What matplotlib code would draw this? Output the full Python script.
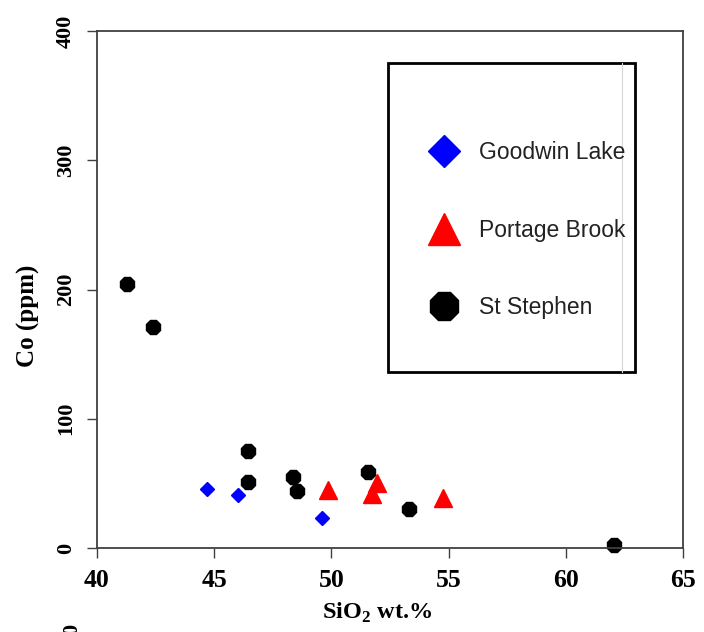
import matplotlib.pyplot as plt
from matplotlib.patches import Rectangle
from matplotlib.lines import Line2D

# SiO2 (wt.%) and Co (ppm)
goodwin_sio2 = [44.7, 46.0, 49.6]
goodwin_co = [46, 41, 23]

portage_sio2 = [49.85, 51.95, 51.75, 54.75]
portage_co = [45, 50, 42, 39]

stephen_sio2 = [41.3, 42.4, 46.45, 46.45, 48.35, 48.55, 51.55, 53.3, 62.05]
stephen_co = [204, 171, 75, 51, 55, 44, 59, 30, 2]

x_ticks = [40, 45, 50, 55, 60, 65]
y_ticks = [0, 100, 200, 300, 400]

serif = 'Liberation Serif'
sans = 'Liberation Sans'

plt.rcParams['mathtext.fontset'] = 'custom'
plt.rcParams['mathtext.rm'] = 'Liberation Serif:bold'
plt.rcParams['mathtext.bf'] = 'Liberation Serif:bold'

fig = plt.figure(figsize=(7.04, 6.32), dpi=100)
ax = fig.add_axes([97 / 704, 84 / 632, 586 / 704, 517 / 632])

ax.plot(goodwin_sio2, goodwin_co, linestyle='none', marker='D', ms=7,
        color='#0000ff', mec='#0000ff', label='Goodwin Lake', clip_on=False)
ax.plot(portage_sio2, portage_co, linestyle='none', marker='^', ms=13.5,
        color='#ff0000', mec='#ff0000', label='Portage Brook', clip_on=False)
ax.plot(stephen_sio2, stephen_co, linestyle='none', marker='8', ms=11.5,
        color='black', mec='black', label='St Stephen', clip_on=False)

ax.set_xlim(40, 65)
ax.set_ylim(0, 400)
ax.set_xticks(x_ticks)
ax.set_yticks(y_ticks)

for sp in ax.spines.values():
    sp.set_color('#404040')
    sp.set_linewidth(1.3)

ax.tick_params(direction='out', length=7, width=1, color='#404040')
ax.tick_params(axis='x', pad=8)
ax.tick_params(axis='y', pad=8)
for lab in ax.get_xticklabels():
    lab.set_fontfamily(serif)
    lab.set_fontweight('bold')
    lab.set_fontsize(18.5)
for lab in ax.get_yticklabels():
    lab.set_fontfamily(serif)
    lab.set_fontweight('bold')
    lab.set_fontsize(16)
    lab.set_rotation(90)
    lab.set_va('center')

ax.set_xlabel('SiO$_2$ wt.%', fontfamily=serif, fontweight='bold',
              fontsize=17.5)
ax.xaxis.set_label_coords((377 - 97) / 586, -0.103)
ax.set_ylabel('Co (ppm)', fontfamily=serif, fontweight='bold', fontsize=18)
ax.yaxis.set_label_coords(-0.098, (548 - 316) / 517)

# legend box drawn separately so its size matches the reference
x0 = (388 - 97) / 586
x1 = (635 - 97) / 586
y0 = (548 - 372) / 517
y1 = (548 - 63) / 517
ax.add_patch(Rectangle((x0, y0), x1 - x0, y1 - y0, transform=ax.transAxes,
                       fill=False, edgecolor='black', linewidth=2, zorder=5))
ax.add_line(Line2D([(622 - 97) / 586] * 2, [y0, y1], transform=ax.transAxes,
                   color='#d8d8d8', linewidth=0.8, zorder=5))

handles = [
    Line2D([], [], linestyle='none', marker='D', ms=16, color='#0000ff'),
    Line2D([], [], linestyle='none', marker='^', ms=23, color='#ff0000'),
    Line2D([], [], linestyle='none', marker='8', ms=22, color='black'),
]
labels = ['Goodwin Lake', 'Portage Brook', 'St Stephen']
leg = ax.legend(handles, labels, loc='upper left',
                bbox_to_anchor=((426 - 97) / 586, (548 - 141) / 517),
                frameon=False, borderpad=0, borderaxespad=0,
                handlelength=1.6, handletextpad=0.7, labelspacing=2.38,
                prop={'family': sans, 'size': 16.5})
for t in leg.get_texts():
    t.set_color('#222222')

# clipped fragment of the next figure at the bottom edge
fig.text(72 / 704, -0.004, '0', rotation=90, fontfamily=serif,
         fontweight='bold', fontsize=16, ha='center', va='bottom')

fig.savefig('out.png', dpi=100)
